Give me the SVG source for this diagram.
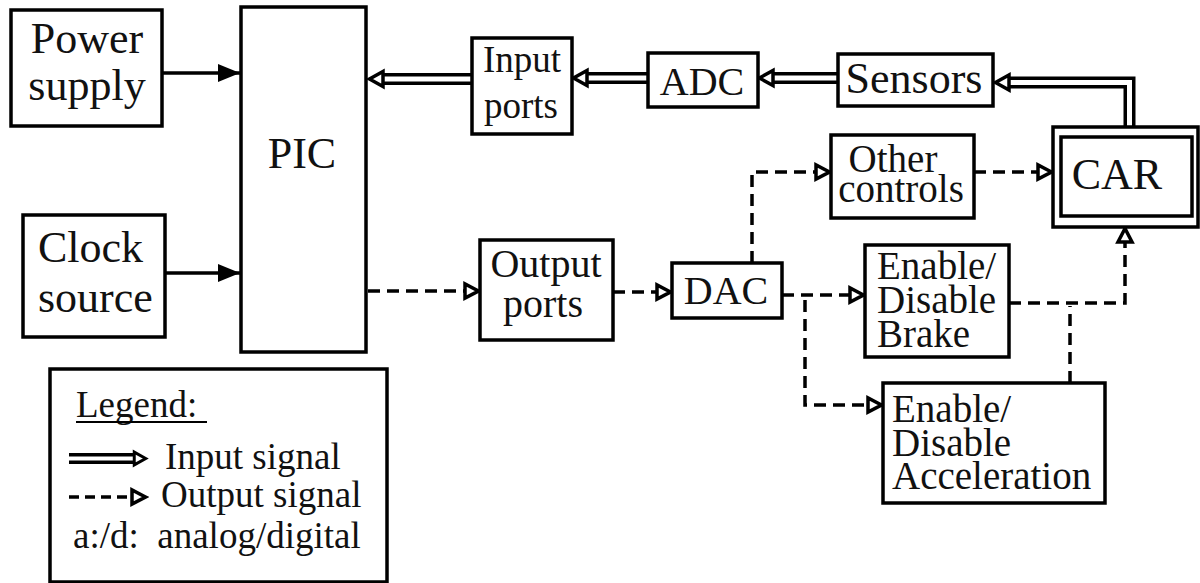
<svg xmlns="http://www.w3.org/2000/svg" xmlns:xlink="http://www.w3.org/1999/xlink" width="1200" height="583" viewBox="0 0 1200 583">
  <style>
    .box { fill: #ffffff; stroke: #000000; stroke-width: 3.5; }
    .lbl { font-family: "Liberation Serif", "Times New Roman", serif; fill: #111111; }
    .big { font-size: 44px; }
    .mid { font-size: 40px; }
    .tri { font-size: 39px; }
    .sm { font-size: 37px; }
    .solid { fill: none; stroke: #000000; stroke-width: 3.5; }
    .dash { fill: none; stroke: #000000; stroke-width: 3.5; stroke-dasharray: 12 7; }
    .dblOuter { fill: none; stroke: #000000; stroke-width: 12; stroke-linejoin: miter; }
    .dblInner { fill: none; stroke: #ffffff; stroke-width: 5; stroke-linejoin: miter; }
    .hollow { fill: #ffffff; stroke: #000000; stroke-width: 3.5; stroke-linejoin: miter; }
  </style>
  <defs>
    <!-- hollow triangular head, tip at origin pointing +x -->
    <path id="head" class="hollow" d="M-1.5,0 L-15,-7.5 L-15,7.5 Z"/>
    <marker id="hollowArrow" markerUnits="userSpaceOnUse" viewBox="-18 -10 20 20" refX="0" refY="0" markerWidth="20" markerHeight="20" orient="auto">
      <path d="M-1.5,0 L-15,-7 L-15,7 Z" fill="#ffffff" stroke="#000000" stroke-width="3.5"/>
    </marker>
    <marker id="solidArrow" markerUnits="userSpaceOnUse" viewBox="-24 -10 26 20" refX="0" refY="0" markerWidth="26" markerHeight="20" orient="auto">
      <path d="M0,0 L-22,-9 L-22,9 Z" fill="#000000"/>
    </marker>
  </defs>

  <rect width="1200" height="583" fill="#ffffff"/>

  <!-- connectors -->
  <g id="connectors">
    <!-- power and clock into PIC -->
    <line class="solid" x1="162" y1="73" x2="240" y2="73" marker-end="url(#solidArrow)"/>
    <line class="solid" x1="165" y1="273" x2="240" y2="273" marker-end="url(#solidArrow)"/>

    <!-- input chain: double lines -->
    <path class="dblOuter" d="M472,79 H382"/>
    <path class="dblInner" d="M474,79 H382"/>
    <use xlink:href="#head" transform="translate(368,79) rotate(180)"/>

    <path class="dblOuter" d="M648,78 H586"/>
    <path class="dblInner" d="M650,78 H586"/>
    <use xlink:href="#head" transform="translate(572,78) rotate(180)"/>

    <path class="dblOuter" d="M838,78 H772"/>
    <path class="dblInner" d="M840,78 H772"/>
    <use xlink:href="#head" transform="translate(758,78) rotate(180)"/>

    <path class="dblOuter" d="M1129.5,127 V82.5 H1008"/>
    <path class="dblInner" d="M1129.5,129 V82.5 H1008"/>
    <use xlink:href="#head" transform="translate(994,82.5) rotate(180)"/>

    <!-- output chain: dashed lines -->
    <line class="dash" x1="368" y1="291" x2="480" y2="291" marker-end="url(#hollowArrow)"/>
    <line class="dash" x1="613" y1="292" x2="672" y2="292" marker-end="url(#hollowArrow)"/>
    <path class="dash" d="M752,263 V172 H831" marker-end="url(#hollowArrow)"/>
    <line class="dash" x1="974" y1="172" x2="1053" y2="172" marker-end="url(#hollowArrow)"/>
    <line class="dash" x1="782" y1="295" x2="865" y2="295" marker-end="url(#hollowArrow)"/>
    <path class="dash" d="M805,300 V405 H883" marker-end="url(#hollowArrow)"/>
    <path class="dash" d="M1009,303 H1125 V227" marker-end="url(#hollowArrow)"/>
    <line class="dash" x1="1070" y1="383" x2="1070" y2="306"/>
  </g>

  <g id="nodes">
    <g id="power-supply">
      <rect class="box" x="11" y="10" width="151" height="116"/>
      <text class="lbl big" x="87" y="53" text-anchor="middle">Power</text>
      <text class="lbl big" x="87" y="100" text-anchor="middle">supply</text>
    </g>

    <g id="clock-source">
      <rect class="box" x="23" y="215" width="142" height="122"/>
      <text class="lbl big" x="38" y="262">Clock</text>
      <text class="lbl big" x="38" y="312">source</text>
    </g>

    <g id="pic">
      <rect class="box" x="241" y="7" width="125" height="345"/>
      <text class="lbl big" x="302" y="168" text-anchor="middle">PIC</text>
    </g>

    <g id="input-ports">
      <rect class="box" x="472" y="38" width="100" height="96"/>
      <text class="lbl sm" x="522" y="72" text-anchor="middle">Input</text>
      <text class="lbl sm" x="521" y="118" text-anchor="middle">ports</text>
    </g>

    <g id="adc">
      <rect class="box" x="648" y="53" width="110" height="54"/>
      <text class="lbl mid" x="702" y="95" text-anchor="middle">ADC</text>
    </g>

    <g id="sensors">
      <rect class="box" x="838" y="54" width="155" height="52"/>
      <text class="lbl big" x="914" y="93" text-anchor="middle">Sensors</text>
    </g>

    <g id="car">
      <rect class="box" x="1053" y="127" width="145" height="100"/>
      <rect class="box" x="1061" y="137" width="131" height="79"/>
      <text class="lbl big" x="1117" y="189" text-anchor="middle">CAR</text>
    </g>

    <g id="other-controls">
      <rect class="box" x="831" y="135" width="143" height="83"/>
      <text class="lbl tri" x="893" y="172" text-anchor="middle">Other</text>
      <text class="lbl tri" x="901" y="202" text-anchor="middle">controls</text>
    </g>

    <g id="output-ports">
      <rect class="box" x="480" y="240" width="133" height="100"/>
      <text class="lbl mid" x="546" y="277" text-anchor="middle">Output</text>
      <text class="lbl mid" x="543" y="317" text-anchor="middle">ports</text>
    </g>

    <g id="dac">
      <rect class="box" x="672" y="263" width="110" height="55"/>
      <text class="lbl mid" x="726" y="304" text-anchor="middle">DAC</text>
    </g>

    <g id="brake">
      <rect class="box" x="865" y="245" width="144" height="112"/>
      <text class="lbl tri" x="877" y="279">Enable/</text>
      <text class="lbl tri" x="877" y="313">Disable</text>
      <text class="lbl tri" x="877" y="347">Brake</text>
    </g>

    <g id="acceleration">
      <rect class="box" x="883" y="383" width="222" height="120"/>
      <text class="lbl tri" x="892" y="422">Enable/</text>
      <text class="lbl tri" x="892" y="456">Disable</text>
      <text class="lbl tri" x="892" y="489">Acceleration</text>
    </g>

    <g id="legend">
      <rect class="box" x="50" y="369" width="337" height="213"/>
      <text class="lbl sm" x="76" y="417">Legend:</text>
      <line x1="76" y1="422" x2="207" y2="422" stroke="#000000" stroke-width="2"/>
      <path class="dblOuter" d="M69,458.5 H134" style="stroke-width:11"/>
      <path class="dblInner" d="M67,458.5 H134" style="stroke-width:4"/>
      <use xlink:href="#head" transform="translate(147,458.5) scale(0.85)"/>
      <text class="lbl sm" x="165" y="469">Input signal</text>
      <line class="dash" x1="69" y1="497" x2="147" y2="497" style="stroke-dasharray:10 6" marker-end="url(#hollowArrow)"/>
      <text class="lbl sm" x="161" y="507">Output signal</text>
      <text class="lbl sm" x="73" y="548" xml:space="preserve">a:/d:  analog/digital</text>
    </g>
  </g>
</svg>
